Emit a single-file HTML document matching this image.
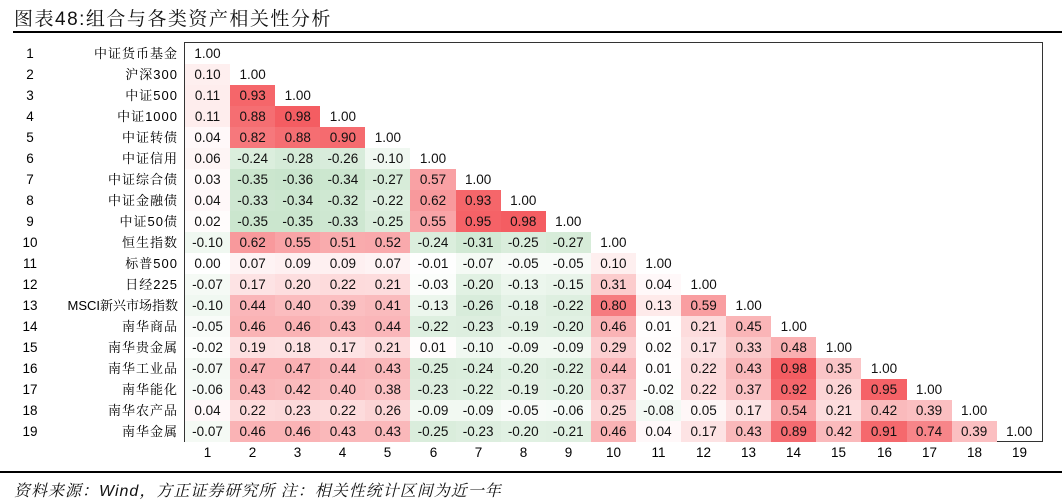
<!DOCTYPE html>
<html><head><meta charset="utf-8">
<style>
body{margin:0;width:1062px;height:499px;background:#fff;position:relative;overflow:hidden;font-family:"Liberation Sans","Noto Sans CJK SC",sans-serif;}
.title{position:absolute;left:14px;top:4px;font-size:19px;color:#111;letter-spacing:1.5px;font-family:"Liberation Sans","Noto Serif CJK SC",serif;}
.l1{position:absolute;left:13px;top:31px;width:1049px;height:2px;background:#000;}
.l2{position:absolute;left:0;top:471px;width:1062px;height:2px;background:#000;}
.src{position:absolute;left:14px;top:478px;font-size:16px;font-style:italic;color:#111;letter-spacing:1px;font-family:"Liberation Sans","Noto Serif CJK SC",serif;}
.box{position:absolute;left:184px;top:42px;width:857px;height:398px;border:1px solid #333;}
.grid{position:absolute;left:185px;top:43px;display:grid;grid-template-columns:repeat(19,45.1px);grid-auto-rows:21px;}
.grid div{font-size:13.5px;text-align:center;line-height:21px;color:#111;}
.rn{position:absolute;left:0;width:60px;text-align:center;font-size:13.5px;line-height:21px;}
.lb{position:absolute;left:30px;width:148px;text-align:right;font-size:13px;line-height:21px;letter-spacing:1px;font-family:"Liberation Sans","Noto Serif CJK SC",serif;}
.ax{position:absolute;top:442px;font-size:13.5px;width:45px;text-align:center;line-height:21px;}
</style></head><body>
<div class="title">图表48:组合与各类资产相关性分析</div>
<div class="l1"></div>
<div class="box"></div>
<div id="labels">
<div class="rn" style="top:43px">1</div><div class="lb" style="top:43px">中证货币基金</div>
<div class="rn" style="top:64px">2</div><div class="lb" style="top:64px">沪深300</div>
<div class="rn" style="top:85px">3</div><div class="lb" style="top:85px">中证500</div>
<div class="rn" style="top:106px">4</div><div class="lb" style="top:106px">中证1000</div>
<div class="rn" style="top:127px">5</div><div class="lb" style="top:127px">中证转债</div>
<div class="rn" style="top:148px">6</div><div class="lb" style="top:148px">中证信用</div>
<div class="rn" style="top:169px">7</div><div class="lb" style="top:169px">中证综合债</div>
<div class="rn" style="top:190px">8</div><div class="lb" style="top:190px">中证金融债</div>
<div class="rn" style="top:211px">9</div><div class="lb" style="top:211px">中证50债</div>
<div class="rn" style="top:232px">10</div><div class="lb" style="top:232px">恒生指数</div>
<div class="rn" style="top:253px">11</div><div class="lb" style="top:253px">标普500</div>
<div class="rn" style="top:274px">12</div><div class="lb" style="top:274px">日经225</div>
<div class="rn" style="top:295px">13</div><div class="lb" style="top:295px;letter-spacing:0">MSCI新兴市场指数</div>
<div class="rn" style="top:316px">14</div><div class="lb" style="top:316px">南华商品</div>
<div class="rn" style="top:337px">15</div><div class="lb" style="top:337px">南华贵金属</div>
<div class="rn" style="top:358px">16</div><div class="lb" style="top:358px">南华工业品</div>
<div class="rn" style="top:379px">17</div><div class="lb" style="top:379px">南华能化</div>
<div class="rn" style="top:400px">18</div><div class="lb" style="top:400px">南华农产品</div>
<div class="rn" style="top:421px">19</div><div class="lb" style="top:421px">南华金属</div>
</div>
<div class="grid" id="g">
<div>1.00</div><div></div><div></div><div></div><div></div><div></div><div></div><div></div><div></div><div></div><div></div><div></div><div></div><div></div><div></div><div></div><div></div><div></div><div></div>
<div>0.10</div><div>1.00</div><div></div><div></div><div></div><div></div><div></div><div></div><div></div><div></div><div></div><div></div><div></div><div></div><div></div><div></div><div></div><div></div><div></div>
<div>0.11</div><div>0.93</div><div>1.00</div><div></div><div></div><div></div><div></div><div></div><div></div><div></div><div></div><div></div><div></div><div></div><div></div><div></div><div></div><div></div><div></div>
<div>0.11</div><div>0.88</div><div>0.98</div><div>1.00</div><div></div><div></div><div></div><div></div><div></div><div></div><div></div><div></div><div></div><div></div><div></div><div></div><div></div><div></div><div></div>
<div>0.04</div><div>0.82</div><div>0.88</div><div>0.90</div><div>1.00</div><div></div><div></div><div></div><div></div><div></div><div></div><div></div><div></div><div></div><div></div><div></div><div></div><div></div><div></div>
<div>0.06</div><div>-0.24</div><div>-0.28</div><div>-0.26</div><div>-0.10</div><div>1.00</div><div></div><div></div><div></div><div></div><div></div><div></div><div></div><div></div><div></div><div></div><div></div><div></div><div></div>
<div>0.03</div><div>-0.35</div><div>-0.36</div><div>-0.34</div><div>-0.27</div><div>0.57</div><div>1.00</div><div></div><div></div><div></div><div></div><div></div><div></div><div></div><div></div><div></div><div></div><div></div><div></div>
<div>0.04</div><div>-0.33</div><div>-0.34</div><div>-0.32</div><div>-0.22</div><div>0.62</div><div>0.93</div><div>1.00</div><div></div><div></div><div></div><div></div><div></div><div></div><div></div><div></div><div></div><div></div><div></div>
<div>0.02</div><div>-0.35</div><div>-0.35</div><div>-0.33</div><div>-0.25</div><div>0.55</div><div>0.95</div><div>0.98</div><div>1.00</div><div></div><div></div><div></div><div></div><div></div><div></div><div></div><div></div><div></div><div></div>
<div>-0.10</div><div>0.62</div><div>0.55</div><div>0.51</div><div>0.52</div><div>-0.24</div><div>-0.31</div><div>-0.25</div><div>-0.27</div><div>1.00</div><div></div><div></div><div></div><div></div><div></div><div></div><div></div><div></div><div></div>
<div>0.00</div><div>0.07</div><div>0.09</div><div>0.09</div><div>0.07</div><div>-0.01</div><div>-0.07</div><div>-0.05</div><div>-0.05</div><div>0.10</div><div>1.00</div><div></div><div></div><div></div><div></div><div></div><div></div><div></div><div></div>
<div>-0.07</div><div>0.17</div><div>0.20</div><div>0.22</div><div>0.21</div><div>-0.03</div><div>-0.20</div><div>-0.13</div><div>-0.15</div><div>0.31</div><div>0.04</div><div>1.00</div><div></div><div></div><div></div><div></div><div></div><div></div><div></div>
<div>-0.10</div><div>0.44</div><div>0.40</div><div>0.39</div><div>0.41</div><div>-0.13</div><div>-0.26</div><div>-0.18</div><div>-0.22</div><div>0.80</div><div>0.13</div><div>0.59</div><div>1.00</div><div></div><div></div><div></div><div></div><div></div><div></div>
<div>-0.05</div><div>0.46</div><div>0.46</div><div>0.43</div><div>0.44</div><div>-0.22</div><div>-0.23</div><div>-0.19</div><div>-0.20</div><div>0.46</div><div>0.01</div><div>0.21</div><div>0.45</div><div>1.00</div><div></div><div></div><div></div><div></div><div></div>
<div>-0.02</div><div>0.19</div><div>0.18</div><div>0.17</div><div>0.21</div><div>0.01</div><div>-0.10</div><div>-0.09</div><div>-0.09</div><div>0.29</div><div>0.02</div><div>0.17</div><div>0.33</div><div>0.48</div><div>1.00</div><div></div><div></div><div></div><div></div>
<div>-0.07</div><div>0.47</div><div>0.47</div><div>0.44</div><div>0.43</div><div>-0.25</div><div>-0.24</div><div>-0.20</div><div>-0.22</div><div>0.44</div><div>0.01</div><div>0.22</div><div>0.43</div><div>0.98</div><div>0.35</div><div>1.00</div><div></div><div></div><div></div>
<div>-0.06</div><div>0.43</div><div>0.42</div><div>0.40</div><div>0.38</div><div>-0.23</div><div>-0.22</div><div>-0.19</div><div>-0.20</div><div>0.37</div><div>-0.02</div><div>0.22</div><div>0.37</div><div>0.92</div><div>0.26</div><div>0.95</div><div>1.00</div><div></div><div></div>
<div>0.04</div><div>0.22</div><div>0.23</div><div>0.22</div><div>0.26</div><div>-0.09</div><div>-0.09</div><div>-0.05</div><div>-0.06</div><div>0.25</div><div>-0.08</div><div>0.05</div><div>0.17</div><div>0.54</div><div>0.21</div><div>0.42</div><div>0.39</div><div>1.00</div><div></div>
<div>-0.07</div><div>0.46</div><div>0.46</div><div>0.43</div><div>0.43</div><div>-0.25</div><div>-0.23</div><div>-0.20</div><div>-0.21</div><div>0.46</div><div>0.04</div><div>0.17</div><div>0.43</div><div>0.89</div><div>0.42</div><div>0.91</div><div>0.74</div><div>0.39</div><div>1.00</div>
</div>
<div class="ax" style="left:185px">1</div><div class="ax" style="left:230px">2</div><div class="ax" style="left:275px">3</div><div class="ax" style="left:320px">4</div><div class="ax" style="left:365px">5</div><div class="ax" style="left:411px">6</div><div class="ax" style="left:456px">7</div><div class="ax" style="left:501px">8</div><div class="ax" style="left:546px">9</div><div class="ax" style="left:591px">10</div><div class="ax" style="left:636px">11</div><div class="ax" style="left:681px">12</div><div class="ax" style="left:726px">13</div><div class="ax" style="left:771px">14</div><div class="ax" style="left:816px">15</div><div class="ax" style="left:862px">16</div><div class="ax" style="left:907px">17</div><div class="ax" style="left:952px">18</div><div class="ax" style="left:997px">19</div>
<div class="l2"></div>
<div class="src">资料来源：Wind，方正证券研究所 注：相关性统计区间为近一年</div>
<script>
document.querySelectorAll('#g div').forEach(function(d){
 var t=d.textContent; if(!t||t==='1.00')return; var v=parseFloat(t);
 var c;
 if(v>=0){c='rgb('+Math.round(255-11*v)+','+Math.round(255-165*v)+','+Math.round(255-160*v)+')';}
 else{var a=-v;c='rgb('+Math.round(255-150*a)+','+Math.round(255-72*a)+','+Math.round(255-140*a)+')';}
 d.style.background=c;
});
</script>
</body></html>
